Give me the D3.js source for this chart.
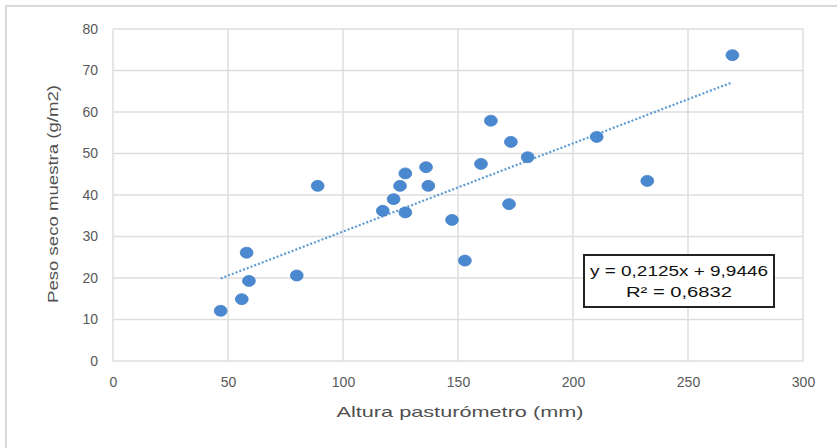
<!DOCTYPE html>
<html>
<head>
<meta charset="utf-8">
<script src="https://cdn.jsdelivr.net/npm/d3@7"></script>
<style>
  html, body { margin: 0; padding: 0; background: #fff; }
  svg { display: block; font-family: "Liberation Sans", Arial, sans-serif; }
</style>
</head>
<body>
<svg id="chart" width="837" height="448"></svg>
<script>
// Altura del pasturómetro (mm) y peso seco de cada muestra (g/m2)
const alturaMm = [46.8, 56.0, 58.1, 59.1, 79.9, 89.0, 117.3, 122.0, 124.8, 127.1, 127.1, 136.1,
                  137.1, 147.4, 153.0, 160.0, 164.3, 173.0, 172.2, 180.3, 210.3, 232.3, 269.3];
const pesoSeco = [12.1, 14.9, 26.1, 19.3, 20.6, 42.2, 36.2, 39.0, 42.2, 45.2, 35.8, 46.7,
                  42.2, 34.0, 24.2, 47.5, 57.9, 52.8, 37.8, 49.1, 54.0, 43.4, 73.7];

// Línea de tendencia lineal y su ajuste
const pendiente = 0.2125;
const intercepto = 9.9446;
const etiquetaEcuacion = "y = 0,2125x + 9,9446";
const etiquetaR2 = "R² = 0,6832";

const xTicks = [0, 50, 100, 150, 200, 250, 300];
const yTicks = [0, 10, 20, 30, 40, 50, 60, 70, 80];
const xTitulo = "Altura pasturómetro (mm)";
const yTitulo = "Peso seco muestra (g/m2)";

const svg = d3.select("#chart");
const W = 837, H = 448;
const plot = { left: 113, right: 803, top: 29, bottom: 361 };

// Marco exterior del gráfico
svg.append("rect").attr("width", W).attr("height", H).attr("fill", "#fff");
svg.append("path")
  .attr("d", `M6,${H} L6,6 L${W},6`)
  .attr("fill", "none").attr("stroke", "#d9d9d9").attr("stroke-width", 2);

const x = d3.scaleLinear().domain([0, 300]).range([plot.left, plot.right]);
const y = d3.scaleLinear().domain([0, 80]).range([plot.bottom, plot.top]);

// Cuadrícula
const grid = svg.append("g").attr("stroke", "#dedede").attr("stroke-width", 1.5);
grid.selectAll("line.v").data(xTicks).join("line")
  .attr("x1", d => x(d)).attr("x2", d => x(d))
  .attr("y1", plot.top).attr("y2", plot.bottom);
grid.selectAll("line.h").data(yTicks).join("line")
  .attr("x1", plot.left).attr("x2", plot.right)
  .attr("y1", d => y(d)).attr("y2", d => y(d));

// Ejes (solo etiquetas)
const xAxis = svg.append("g")
  .attr("transform", `translate(0,${plot.bottom + 13})`)
  .call(d3.axisBottom(x).tickValues(xTicks).tickSize(0).tickFormat(d3.format("d")));
const yAxis = svg.append("g")
  .attr("transform", `translate(${plot.left - 12},0)`)
  .call(d3.axisLeft(y).tickValues(yTicks).tickSize(0).tickFormat(d3.format("d")));
[xAxis, yAxis].forEach(g => {
  g.select(".domain").remove();
  g.selectAll("text")
    .attr("fill", "#595959")
    .style("font-family", "'Liberation Sans', Arial, sans-serif")
    .style("font-size", "14px");
});

// Títulos de ejes
svg.append("text")
  .attr("x", (plot.left + plot.right) / 2 + 2).attr("y", 417)
  .attr("text-anchor", "middle").attr("fill", "#505050")
  .style("font-size", "15px")
  .attr("textLength", 247).attr("lengthAdjust", "spacingAndGlyphs")
  .text(xTitulo);
svg.append("text")
  .attr("transform", "translate(58,194) rotate(-90)")
  .attr("text-anchor", "middle").attr("fill", "#505050")
  .style("font-size", "15px")
  .attr("textLength", 218).attr("lengthAdjust", "spacingAndGlyphs")
  .text(yTitulo);

// Línea de tendencia punteada entre el mínimo y el máximo de x
const xExt = d3.extent(alturaMm);
svg.append("line")
  .attr("x1", x(xExt[0])).attr("y1", y(pendiente * xExt[0] + intercepto))
  .attr("x2", x(xExt[1])).attr("y2", y(pendiente * xExt[1] + intercepto))
  .attr("stroke", "#5b9bd5").attr("stroke-width", 2.2)
  .attr("stroke-dasharray", "2,2");

// Puntos
svg.append("g").selectAll("ellipse").data(alturaMm).join("ellipse")
  .attr("cx", (d, i) => x(d)).attr("cy", (d, i) => y(pesoSeco[i]))
  .attr("rx", 6.4).attr("ry", 5.5)
  .attr("fill", "#4a89d0").attr("stroke", "#4682c8").attr("stroke-width", 0.8);

// Cuadro con la ecuación
svg.append("rect")
  .attr("x", 584).attr("y", 255).attr("width", 190).attr("height", 52)
  .attr("fill", "#fff").attr("stroke", "#222").attr("stroke-width", 2);
svg.append("text")
  .attr("x", 679).attr("y", 276).attr("text-anchor", "middle").attr("fill", "#111")
  .style("font-size", "14px")
  .attr("textLength", 178).attr("lengthAdjust", "spacingAndGlyphs")
  .text(etiquetaEcuacion);
svg.append("text")
  .attr("x", 679).attr("y", 297).attr("text-anchor", "middle").attr("fill", "#111")
  .style("font-size", "14px")
  .attr("textLength", 106).attr("lengthAdjust", "spacingAndGlyphs")
  .text(etiquetaR2);
</script>
</body>
</html>
